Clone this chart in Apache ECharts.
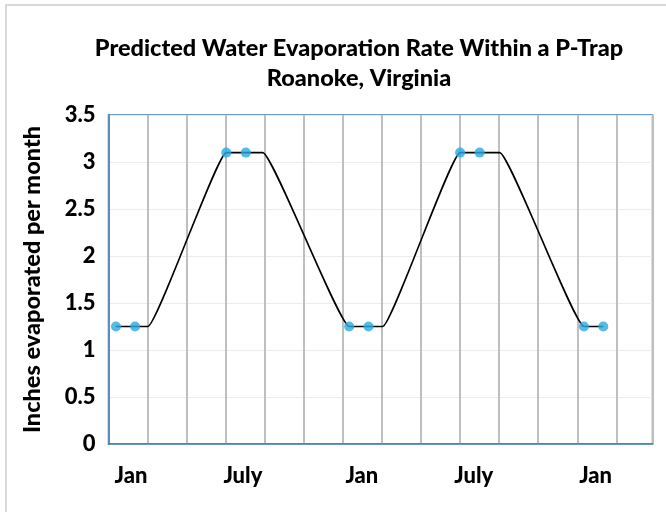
<!DOCTYPE html>
<html><head><meta charset="utf-8">
<script src="https://cdn.jsdelivr.net/npm/echarts@6/dist/echarts.min.js"></script>
<style>html,body{margin:0;padding:0;background:#fff}#c{width:666px;height:512px}</style>
</head><body><div id="c"></div><script>
// ---- data ----
const titleLines = ['Predicted Water Evaporation Rate Within a P-Trap', 'Roanoke, Virginia'];
const yAxisName = 'Inches evaporated per month';
// x in months from chart origin (grid line every 2 months)
const markerX = [0.38, 1.36, 6.03, 7.03, 12.32, 13.31, 18.0, 19.0, 24.34, 25.33];
const markerY = [1.25, 1.25, 3.1, 3.1, 1.25, 1.25, 3.1, 3.1, 1.25, 1.25];
const curveX = [0.38, 1.36, 2.02, 6.03, 7.03, 7.9, 12.32, 13.31, 14.04, 18.0, 19.0, 20.03, 24.34, 25.33];
const curveY = [1.25, 1.25, 1.25, 3.1, 3.1, 3.1, 1.25, 1.25, 1.25, 3.1, 3.1, 3.1, 1.25, 1.25];
const monthLabels = ['Jan', 'July', 'Jan', 'July', 'Jan'];
const monthLabelPos = [1.15, 6.88, 12.97, 18.7, 24.94];
const yMin = 0, yMax = 3.5, yStep = 0.5;
const xMin = 0, xMax = 27.85, xStep = 2;

const FONT = 'Lato, "Liberation Sans Narrow", Roboto, sans-serif';
const BLUE = '#3b7cc0';

const chart = echarts.init(document.getElementById('c'), null, {renderer: 'canvas'});
chart.setOption({
  animation: false,
  backgroundColor: '#fff',
  title: {
    text: titleLines.join('\n'),
    left: 354, top: 28, textAlign: 'center',
    textStyle: {fontFamily: FONT, fontWeight: 900, fontSize: 23.5, lineHeight: 30, color: '#000'}
  },
  graphic: [{
    type: 'rect', shape: {x: 6, y: 5, width: 720, height: 620},
    style: {fill: 'none', stroke: '#d9d9d9', lineWidth: 2}, silent: true, z: -10
  }],
  grid: {left: 108.5, right: 13.5, top: 115, bottom: 68, show: true, borderColor: BLUE, borderWidth: 1.5, backgroundColor: 'transparent', containLabel: false},
  xAxis: [{
    type: 'value', min: xMin, max: xMax, interval: xStep,
    axisLine: {show: true, lineStyle: {color: BLUE, width: 1.5}},
    axisTick: {show: false}, axisLabel: {show: false},
    splitLine: {show: true, lineStyle: {color: '#bfbfbf', width: 2}}
  }, {
    type: 'value', min: xMin, max: xMax, position: 'bottom',
    axisLine: {show: false}, axisTick: {show: false}, splitLine: {show: false},
    axisLabel: {
      show: true, customValues: monthLabelPos, margin: 21,
      formatter: v => monthLabels[monthLabelPos.indexOf(v)] || '',
      fontFamily: FONT, fontWeight: 900, fontSize: 22, color: '#000'
    }
  }],
  yAxis: {
    type: 'value', min: yMin, max: yMax, interval: yStep,
    name: yAxisName, nameLocation: 'middle', nameRotate: 90, nameGap: 64,
    nameTextStyle: {fontFamily: FONT, fontWeight: 900, fontSize: 23.5, color: '#000'},
    axisLine: {show: true, lineStyle: {color: BLUE, width: 1.5}},
    axisTick: {show: false},
    axisLabel: {fontFamily: FONT, fontWeight: 900, fontSize: 22, color: '#000', margin: 13},
    splitLine: {show: true, lineStyle: {color: '#ececec', width: 1}}
  },
  series: [{
    type: 'line', xAxisIndex: 0, data: curveX.map((x, i) => [x, curveY[i]]),
    symbol: 'none', smooth: 0.1, lineStyle: {color: '#000', width: 1.6}, z: 2
  }, {
    type: 'scatter', xAxisIndex: 0, data: markerX.map((x, i) => [x, markerY[i]]),
    symbol: 'circle', symbolSize: 10, itemStyle: {color: '#29a9e1'}, z: 3
  }]
});
</script></body></html>
